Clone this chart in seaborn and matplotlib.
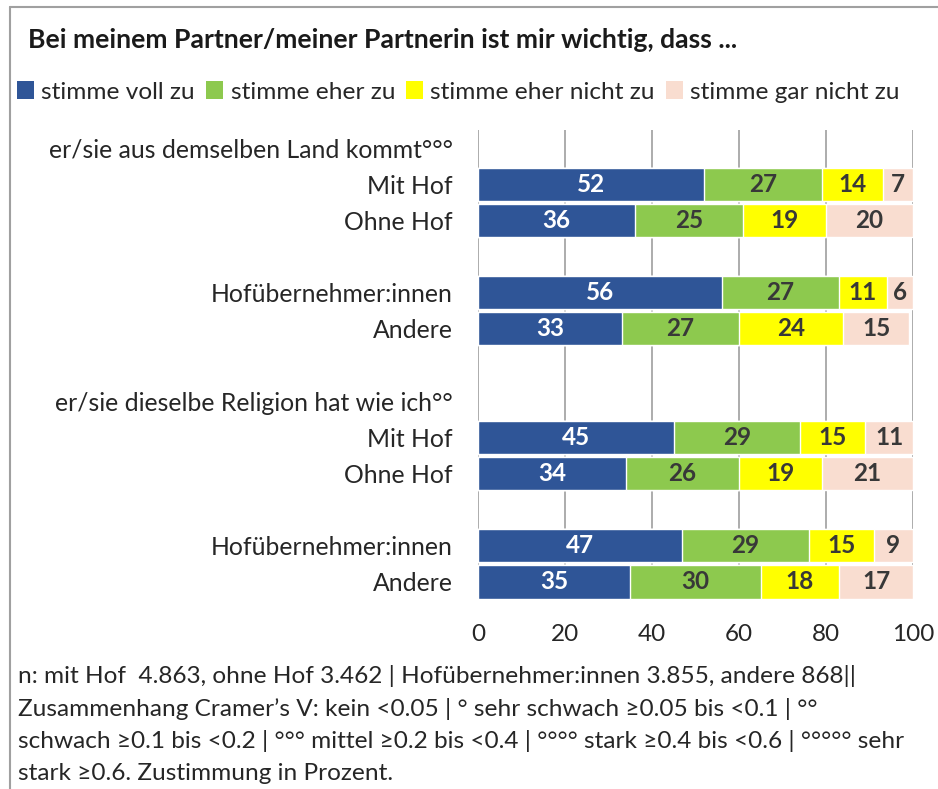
import numpy as np
import pandas as pd
import matplotlib
matplotlib.use("Agg")
import matplotlib.pyplot as plt
import seaborn as sns
from matplotlib.lines import Line2D
from matplotlib.patches import Patch

sns.set_theme(style="white")
plt.rcParams['font.family'] = ['Lato', 'DejaVu Sans']

# ---------------- data ----------------
row_keys = ["h1", "l_mit", "l_ohne", "b1", "l_hof", "l_and", "b2",
            "h2", "r_mit", "r_ohne", "b3", "r_hof", "r_and"]
row_labels = ["er/sie aus demselben Land kommt°°°", "Mit Hof", "Ohne Hof", "",
              "Hofübernehmer:innen", "Andere", "",
              "er/sie dieselbe Religion hat wie ich°°", "Mit Hof", "Ohne Hof", "",
              "Hofübernehmer:innen", "Andere"]
bar_rows = ["l_mit", "l_ohne", "l_hof", "l_and", "r_mit", "r_ohne", "r_hof", "r_and"]
voll_zu = [52, 36, 56, 33, 45, 34, 47, 35]
eher_zu = [27, 25, 27, 27, 29, 26, 29, 30]
eher_nicht_zu = [14, 19, 11, 24, 15, 19, 15, 18]
gar_nicht_zu = [7, 20, 6, 15, 11, 21, 9, 17]
series_names = ["stimme voll zu", "stimme eher zu", "stimme eher nicht zu", "stimme gar nicht zu"]
colors = ["#2F5597", "#8DC94E", "#FFFF00", "#F9DDD0"]
label_colors = ["white", "#383838", "#383838", "#383838"]
x_ticks = [0, 20, 40, 60, 80, 100]

title = "Bei meinem Partner/meiner Partnerin ist mir wichtig, dass ..."
footnote_lines = [
    "n: mit Hof  4.863, ohne Hof 3.462 | Hofübernehmer:innen 3.855, andere 868||",
    "Zusammenhang Cramer’s V: kein <0.05 | ° sehr schwach ≥0.05 bis <0.1 | °°",
    "schwach ≥0.1 bis <0.2 | °°° mittel ≥0.2 bis <0.4 | °°°° stark ≥0.4 bis <0.6 | °°°°° sehr",
    "stark ≥0.6. Zustimmung in Prozent.",
]

series = [voll_zu, eher_zu, eher_nicht_zu, gar_nicht_zu]
df = pd.DataFrame({"row": bar_rows})
cum = np.zeros(len(bar_rows))
cum_cols = []
for name, vals in zip(series_names, series):
    cum = cum + np.array(vals)
    df["cum_" + name] = cum
    cum_cols.append("cum_" + name)

# ---------------- figure ----------------
W, H = 938, 789
fig = plt.figure(figsize=(W / 100, H / 100), dpi=100)
ax = fig.add_axes([478 / W, 1 - 600 / H, (913 - 478) / W, (600 - 130) / H])

for col, c in reversed(list(zip(cum_cols, colors))):
    sns.barplot(data=df, x=col, y="row", order=row_keys, orient="h", color=c,
                saturation=1, width=0.92, errorbar=None, edgecolor="white",
                linewidth=1.0, ax=ax, zorder=2)

# value labels
pos = {k: i for i, k in enumerate(row_keys)}
for si, vals in enumerate(series):
    for r, v in zip(bar_rows, vals):
        prev = sum(series[j][bar_rows.index(r)] for j in range(si))
        ax.text(prev + v / 2, pos[r], str(v), ha="center", va="center",
                fontsize=17.5, fontweight="bold", color=label_colors[si], zorder=3)

ax.set_xlim(0, 100)
ax.set_ylim(len(row_keys) - 0.5, -0.5)
ax.set_xticks(x_ticks)
ax.set_xticklabels([str(t) for t in x_ticks])
ax.set_yticks(range(len(row_keys)))
ax.set_yticklabels(row_labels)
ax.set_xlabel("")
ax.set_ylabel("")
for s in ax.spines.values():
    s.set_visible(False)
ax.grid(False)
for t in x_ticks:
    ax.axvline(t, color="#A6A6A6", lw=1.3, zorder=0)
ax.tick_params(axis="x", length=0, pad=17, labelsize=17.5, labelcolor="#262626")
ax.tick_params(axis="y", length=0, pad=18, labelsize=17.8, labelcolor="#262626")

# title
fig.text(28 / W, 1 - 40 / H, title, fontsize=19.1, fontweight="bold",
         color="#1a1a1a", ha="left", va="center")

# legend
handles = [Patch(facecolor=c, edgecolor="none") for c in colors]
fig.legend(handles, series_names, loc="center left", bbox_to_anchor=(17 / W, 1 - 92 / H),
           ncol=4, frameon=False, fontsize=17.6, handlelength=0.7, handleheight=0.7,
           handletextpad=0.3, columnspacing=0.45, borderaxespad=0, borderpad=0,
           labelcolor="#262626")

# footnote
for i, line in enumerate(footnote_lines):
    fig.text(18 / W, 1 - (676 + i * 32.5) / H, line, fontsize=17.6, color="#262626",
             ha="left", va="center")

# border
fig.add_artist(Line2D([10 / W, 10 / W], [0, 1 - 7 / H], transform=fig.transFigure,
                      color="#A0A0A0", lw=1.5))
fig.add_artist(Line2D([10 / W, 1], [1 - 7 / H, 1 - 7 / H], transform=fig.transFigure,
                      color="#A0A0A0", lw=1.5))

fig.savefig("out.png", dpi=100)
